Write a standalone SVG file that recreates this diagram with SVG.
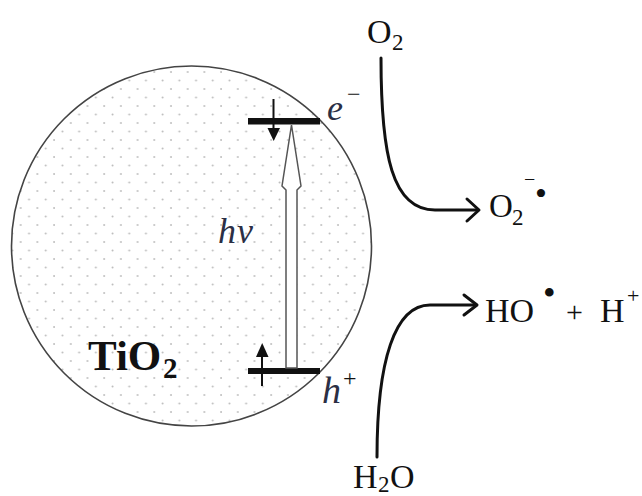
<svg xmlns="http://www.w3.org/2000/svg" width="642" height="496" viewBox="0 0 642 496">
<style>
.t{font-family:"Liberation Serif","Times New Roman",serif;fill:#111}
.i{font-style:italic;fill:#2b2f45}
.b{font-weight:bold}
.conn{fill:none;stroke:#111;stroke-width:3;stroke-linecap:round;stroke-linejoin:round}
</style>
<defs>
<pattern id="dots" patternUnits="userSpaceOnUse" width="16.7" height="17">
<circle cx="4" cy="4" r="1" fill="#bdbdbd"/>
<circle cx="12.35" cy="12.5" r="1" fill="#bdbdbd"/>
</pattern>
</defs>
<rect width="642" height="496" fill="#fff"/>
<g id="particle">
<circle cx="191.5" cy="246" r="180" fill="#fff"/>
<circle cx="191.5" cy="246" r="180" fill="url(#dots)" stroke="#444" stroke-width="1.6"/>
<text class="t b" x="88" y="370" font-size="43">TiO<tspan x="163" y="378" font-size="29">2</tspan></text>
</g>
<g id="cb">
<rect x="248" y="118" width="72" height="6.5" fill="#111"/>
<line x1="273.5" y1="99" x2="273.5" y2="130" stroke="#111" stroke-width="2"/>
<polygon points="267.5,128 280,128 273.7,141" fill="#111"/>
<text class="t i" x="327" y="120" font-size="36">e<tspan x="347" y="102" font-size="24" font-style="normal" fill="#111">−</tspan></text>
</g>
<g id="vb">
<rect x="248" y="368" width="72" height="6" fill="#111"/>
<line x1="262" y1="355" x2="262" y2="386" stroke="#111" stroke-width="2"/>
<polygon points="256,357 268.5,357 262.2,343" fill="#111"/>
<text class="t i" x="322" y="403" font-size="38">h<tspan x="343" y="386" font-size="24" font-style="normal" fill="#111">+</tspan></text>
</g>
<g id="photon">
<polygon points="291.5,125 301,186 297,190 297,368 286,368 286,190 282,186" fill="#fff" stroke="#555" stroke-width="1.5" stroke-linejoin="miter"/>
<text class="t i" x="218" y="243" font-size="36">h<tspan x="237">ν</tspan></text>
</g>
<g id="o2">
<text class="t" x="367" y="43" font-size="34">O<tspan x="392" y="50" font-size="23">2</tspan></text>
</g>
<g id="superoxide">
<text class="t" x="489" y="217" font-size="33">O<tspan x="512" y="225" font-size="23">2</tspan><tspan x="524" y="186" font-size="20">−</tspan><tspan x="535" y="205" font-size="34">•</tspan></text>
</g>
<g id="h2o">
<text class="t" x="353" y="488" font-size="34">H<tspan x="378" y="492" font-size="23">2</tspan><tspan x="390" y="488" font-size="34">O</tspan></text>
</g>
<g id="products">
<text class="t" x="485" y="322" font-size="34">HO<tspan x="543" y="305" font-size="36">•</tspan><tspan x="566" y="322" font-size="30">+</tspan><tspan x="600" y="322" font-size="34">H</tspan><tspan x="627" y="303" font-size="22">+</tspan></text>
</g>
<g id="connectors">
<path class="conn" d="M381,58 C381,155 392,210 435,210 L478,210"/>
<path class="conn" d="M467,199 L479,210 L467,221"/>
<path class="conn" d="M377,457 C377,360 395,305 430,305 L476,305"/>
<path class="conn" d="M464,295 L477,305 L464,315"/>
</g>
</svg>
